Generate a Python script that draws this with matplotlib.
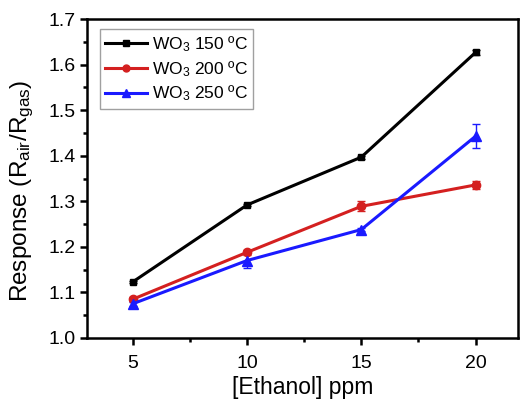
import matplotlib
matplotlib.use("Agg")
import matplotlib.pyplot as plt
from matplotlib.ticker import MultipleLocator
from matplotlib.lines import Line2D

plt.rcParams['font.family'] = ['Liberation Sans', 'DejaVu Sans']
plt.rcParams['mathtext.fontset'] = 'custom'
plt.rcParams['mathtext.rm'] = 'Liberation Sans'
plt.rcParams['mathtext.it'] = 'Liberation Sans'

ppm = [5, 10, 15, 20]
resp_150 = [1.123, 1.292, 1.397, 1.627]
err_150 = [0.003, 0.003, 0.003, 0.006]
resp_200 = [1.085, 1.188, 1.289, 1.336]
err_200 = [0.004, 0.005, 0.011, 0.008]
resp_250 = [1.075, 1.170, 1.238, 1.443]
err_250 = [0.004, 0.016, 0.004, 0.027]
labels = [r'WO$_3$ 150 ºC', r'WO$_3$ 200 ºC', r'WO$_3$ 250 ºC']

fig = plt.figure(figsize=(5.21, 3.99), dpi=100)
ax = fig.add_axes([0.167, 0.153, 0.827, 0.799])

series = [
    (resp_150, err_150, '#000000', 's', 5),
    (resp_200, err_200, '#d42020', 'o', 6),
    (resp_250, err_250, '#1a1aff', '^', 6.5),
]
handles = []
for (y, e, c, m, ms), lab in zip(series, labels):
    ax.errorbar(ppm, y, yerr=e, color=c, marker=m, markersize=ms, lw=2.2,
                elinewidth=1.0, capsize=3, capthick=1.0)
    handles.append(Line2D([], [], color=c, marker=m, markersize=ms - 1, lw=2.2))

ax.set_xlim(3, 21.85)
ax.set_ylim(1.0, 1.7)
ax.xaxis.set_major_locator(MultipleLocator(5))
ax.xaxis.set_minor_locator(MultipleLocator(2.5))
ax.yaxis.set_major_locator(MultipleLocator(0.1))
ax.yaxis.set_minor_locator(MultipleLocator(0.05))
ax.set_xticks([5, 10, 15, 20])
ax.yaxis.set_major_formatter(plt.FuncFormatter(lambda v, p: f'{v:.1f}'))

for s in ax.spines.values():
    s.set_linewidth(1.8)
ax.tick_params(which='major', direction='out', length=5, width=1.8,
               labelsize=14)
ax.tick_params(axis='x', which='major', pad=7)
ax.tick_params(axis='y', which='major', pad=3)
ax.tick_params(which='minor', direction='out', length=3, width=1.8)

ax.set_xlabel('[Ethanol] ppm', fontsize=16.5, labelpad=3)
ax.set_ylabel(r'Response (R$_{air}$/R$_{gas}$)', fontsize=17.5)
ax.yaxis.set_label_coords(-0.118, 0.46)

leg = ax.legend(handles, labels, loc='upper left', bbox_to_anchor=(0.03, 0.97),
                fontsize=12.5, frameon=True, fancybox=False, edgecolor='#888888',
                handlelength=2.4, handletextpad=0.3, borderpad=0.3,
                labelspacing=0.3, borderaxespad=0)
leg.get_frame().set_linewidth(1.0)

fig.savefig('out.png', dpi=100)
